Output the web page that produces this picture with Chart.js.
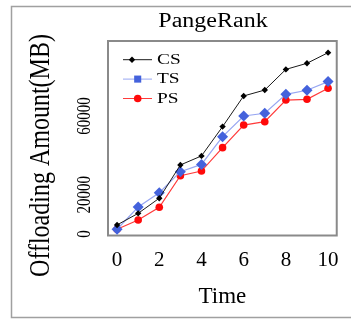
<!DOCTYPE html>
<html>
<head>
<meta charset="utf-8">
<script src="https://cdn.jsdelivr.net/npm/chart.js@4.4.1/dist/chart.umd.min.js"></script>
<style>
  html, body { margin: 0; padding: 0; background: #fff; overflow: hidden; }
  canvas { display: block; }
</style>
</head>
<body>
<canvas id="myChart" width="351" height="320"></canvas>
<script>
// data
const times = [0, 1, 2, 3, 4, 5, 6, 7, 8, 9, 10];
const csValues = [4600, 10500, 18200, 35100, 39700, 54600, 70200, 73200, 83700, 86800, 92200];
const tsValues = [2400, 13700, 21000, 31700, 35400, 49500, 60000, 61400, 71000, 73100, 77500];
const psValues = [2400, 7100, 13600, 29600, 32000, 43900, 55400, 57100, 68100, 68500, 74100];
const xTicks = [0, 2, 4, 6, 8, 10];
const yTicks = [0, 20000, 60000];

const serif = "'Liberation Serif', 'Times New Roman', serif";

// text with a stretch along the glyph height / width
function stretchText(ctx, text, x, y, size, rot, sx, sy, align) {
  ctx.save();
  ctx.translate(x, y);
  ctx.rotate(rot);
  ctx.scale(sx, sy);
  ctx.font = size + 'px ' + serif;
  ctx.fillStyle = '#000';
  ctx.textAlign = align || 'center';
  ctx.textBaseline = 'middle';
  ctx.fillText(text, 0, 0);
  ctx.restore();
}

const decor = {
  id: 'decor',
  beforeDatasetsDraw(chart) {
    const ctx = chart.ctx;
    const a = chart.chartArea;
    ctx.save();
    // outer figure frame (open on the right, cut by the picture edge)
    ctx.strokeStyle = '#a0a0a0';
    ctx.lineWidth = 1.5;
    ctx.beginPath();
    ctx.moveTo(360, 6.5);
    ctx.lineTo(11.5, 6.5);
    ctx.lineTo(11.5, 317.5);
    ctx.lineTo(360, 317.5);
    ctx.stroke();
    // plot frame
    ctx.strokeStyle = '#8a8a8a';
    ctx.lineWidth = 2;
    ctx.strokeRect(a.left, a.top, a.right - a.left, a.bottom - a.top);
    ctx.restore();

    // title
    stretchText(ctx, 'PangeRank', 213, 22, 20, 0, 1.2, 1, 'center');
    // y axis title
    stretchText(ctx, 'Offloading Amount(MB)', 41, 155.5, 24, -Math.PI / 2, 1, 1.25, 'center');
    // y tick labels, placed with the y scale
    const y = chart.scales.y;
    yTicks.forEach(v => {
      stretchText(ctx, String(v), 85, y.getPixelForValue(v), 15, -Math.PI / 2, 1, 1.3, 'center');
    });
  },
  afterDraw(chart) {
    const ctx = chart.ctx;
    chart.data.datasets.forEach((ds, i) => {
      const ly = 59.7 + i * 19.4;
      ctx.save();
      ctx.strokeStyle = ds.borderColor;
      ctx.lineWidth = 1;
      ctx.beginPath();
      ctx.moveTo(123, ly);
      ctx.lineTo(152, ly);
      ctx.stroke();
      ctx.fillStyle = ds.pointBackgroundColor;
      ctx.strokeStyle = ds.pointBackgroundColor;
      Chart.helpers.drawPoint(ctx, {
        pointStyle: ds.legendStyle,
        radius: ds.legendRadius,
        borderWidth: 0,
        rotation: 0
      }, ds.legendX, ly);
      ctx.restore();
      stretchText(ctx, ds.label, 157, ly, 15.5, 0, 1.25, 1, 'left');
    });
  }
};

new Chart(document.getElementById('myChart'), {
  type: 'line',
  data: {
    labels: times,
    datasets: [
      {
        label: 'CS',
        data: csValues,
        borderColor: '#1a1a1a',
        borderWidth: 1,
        pointStyle: 'rectRot',
        pointRadius: 3.2,
        pointBackgroundColor: '#000',
        pointBorderWidth: 0,
        legendStyle: 'rectRot',
        legendRadius: 3.2,
        legendX: 132
      },
      {
        label: 'TS',
        data: tsValues,
        borderColor: '#97a6f2',
        borderWidth: 1.2,
        pointStyle: 'rectRot',
        pointRadius: 5.5,
        pointBackgroundColor: '#4462dc',
        pointBorderWidth: 0,
        legendStyle: 'rect',
        legendRadius: 5,
        legendX: 137.7
      },
      {
        label: 'PS',
        data: psValues,
        borderColor: '#ff3b3b',
        borderWidth: 1.2,
        pointStyle: 'circle',
        pointRadius: 3.8,
        pointBackgroundColor: '#ff0a0a',
        pointBorderWidth: 0,
        legendStyle: 'circle',
        legendRadius: 3.8,
        legendX: 137.7
      }
    ]
  },
  options: {
    responsive: false,
    animation: false,
    devicePixelRatio: 1,
    layout: { padding: { left: 108, top: 41, right: 11, bottom: 0 } },
    plugins: {
      legend: { display: false },
      title: { display: false },
      tooltip: { enabled: false }
    },
    scales: {
      x: {
        type: 'linear',
        min: -0.43,
        max: 10.41,
        afterBuildTicks: s => { s.ticks = xTicks.map(v => ({ value: v })); },
        afterFit: s => { s.height = 84.5; },
        grid: { display: false, drawTicks: false },
        border: { display: false },
        ticks: {
          padding: 12,
          color: '#000',
          font: { family: serif, size: 21 }
        },
        title: {
          display: true,
          text: 'Time',
          color: '#000',
          font: { family: serif, size: 23 },
          padding: { top: 0, bottom: 9 }
        }
      },
      y: {
        display: false,
        min: -763,
        max: 98135
      }
    }
  },
  plugins: [decor]
});
</script>
</body>
</html>
